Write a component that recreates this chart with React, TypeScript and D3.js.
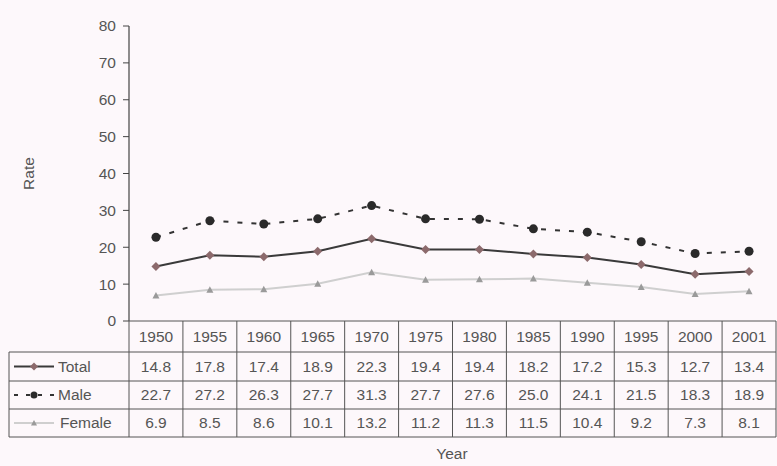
import React from "react";
import * as d3 from "d3";

const years = ["1950", "1955", "1960", "1965", "1970", "1975", "1980", "1985", "1990", "1995", "2000", "2001"];
const total = [14.8, 17.8, 17.4, 18.9, 22.3, 19.4, 19.4, 18.2, 17.2, 15.3, 12.7, 13.4];
const male = [22.7, 27.2, 26.3, 27.7, 31.3, 27.7, 27.6, 25.0, 24.1, 21.5, 18.3, 18.9];
const female = [6.9, 8.5, 8.6, 10.1, 13.2, 11.2, 11.3, 11.5, 10.4, 9.2, 7.3, 8.1];
const yTicks = [0, 10, 20, 30, 40, 50, 60, 70, 80];

const W = 777;
const H = 466;
const left = 129;
const right = 776;
const top = 26;
const baseY = 321;
const rowLines = [321, 352, 381, 409, 437];
const legendLeft = 9;

const series = [
  { name: "Total", values: total, stroke: "#3a3a3a", dash: "", width: 2, marker: "#8c6a6c", r: 4 },
  { name: "Male", values: male, stroke: "#333", dash: "5,9", width: 2, marker: "#2a2a2a", r: 4.5 },
  { name: "Female", values: female, stroke: "#cfcfcf", dash: "", width: 2, marker: "#9a9a9a", r: 3 },
];

export default function App() {
  const x = d3.scaleBand<string>().domain(years).range([left, right]);
  const y = d3.scaleLinear().domain([0, 80]).range([baseY, top]);
  const cx = (yr: string) => (x(yr) as number) + x.bandwidth() / 2;
  const font = "'Liberation Sans', Arial, sans-serif";
  const txt = "#555";
  const fs = 15.5;

  return (
    <svg width={W} height={H} style={{ position: "absolute", left: 0, top: 0, background: "#fdf8fb" }} fontFamily={font}>
      <rect width={W} height={H} fill="#fdf8fb" />
      {/* y axis */}
      <line x1={left} x2={left} y1={top} y2={baseY} stroke="#444" strokeWidth={1.2} />
      {yTicks.map((t) => (
        <g key={t}>
          <line x1={left - 6} x2={left} y1={y(t)} y2={y(t)} stroke="#444" />
          <text x={left - 13} y={y(t)} dy="0.35em" textAnchor="end" fontSize={fs} fill={txt}>
            {t}
          </text>
        </g>
      ))}
      <text transform={`translate(34,${(top + baseY) / 2}) rotate(-90)`} textAnchor="middle" fontSize={fs} fill={txt}>
        Rate
      </text>

      {/* series lines and markers */}
      {series.map((s) => {
        const line = d3
          .line<number>()
          .x((_, i) => cx(years[i]))
          .y((v) => y(v));
        return (
          <g key={s.name}>
            <path d={line(s.values) ?? ""} fill="none" stroke={s.stroke} strokeWidth={s.width} strokeDasharray={s.dash} />
            {s.values.map((v, i) =>
              s.name === "Total" ? (
                <path
                  key={i}
                  d={`M${cx(years[i])},${y(v) - 4.5}L${cx(years[i]) + 4.5},${y(v)}L${cx(years[i])},${y(v) + 4.5}L${cx(years[i]) - 4.5},${y(v)}Z`}
                  fill={s.marker}
                />
              ) : s.name === "Female" ? (
                <path
                  key={i}
                  d={`M${cx(years[i])},${y(v) - 3.5}L${cx(years[i]) + 3.5},${y(v) + 3}L${cx(years[i]) - 3.5},${y(v) + 3}Z`}
                  fill={s.marker}
                />
              ) : (
                <circle key={i} cx={cx(years[i])} cy={y(v)} r={s.r} fill={s.marker} />
              )
            )}
          </g>
        );
      })}

      {/* data table */}
      <g stroke="#555" strokeWidth={1}>
        <line x1={left} x2={right} y1={rowLines[0]} y2={rowLines[0]} />
        {rowLines.slice(1).map((ly) => (
          <line key={ly} x1={legendLeft} x2={right} y1={ly} y2={ly} />
        ))}
        {years.map((yr) => (
          <line key={yr} x1={x(yr)} x2={x(yr)} y1={rowLines[0]} y2={rowLines[4]} />
        ))}
        <line x1={right} x2={right} y1={rowLines[0]} y2={rowLines[4]} />
        <line x1={legendLeft} x2={legendLeft} y1={rowLines[1]} y2={rowLines[4]} />
      </g>
      {years.map((yr) => (
        <text key={yr} x={cx(yr)} y={(rowLines[0] + rowLines[1]) / 2} dy="0.35em" textAnchor="middle" fontSize={fs} fill={txt}>
          {yr}
        </text>
      ))}
      {series.map((s, r) => (
        <g key={s.name}>
          {s.values.map((v, i) => (
            <text
              key={i}
              x={cx(years[i])}
              y={(rowLines[r + 1] + rowLines[r + 2]) / 2}
              dy="0.35em"
              textAnchor="middle"
              fontSize={fs}
              fill={txt}
            >
              {v.toFixed(1)}
            </text>
          ))}
        </g>
      ))}

      {/* legend column */}
      {series.map((s, r) => {
        const ly = (rowLines[r + 1] + rowLines[r + 2]) / 2;
        return (
          <g key={s.name}>
            <line x1={14} x2={54} y1={ly} y2={ly} stroke={s.stroke} strokeWidth={s.width} strokeDasharray={s.name === "Male" ? "4,8" : ""} />
            {s.name === "Total" ? (
              <path d={`M34,${ly - 4}L38,${ly}L34,${ly + 4}L30,${ly}Z`} fill={s.marker} />
            ) : s.name === "Female" ? (
              <path d={`M34,${ly - 3}L37,${ly + 2.5}L31,${ly + 2.5}Z`} fill={s.marker} />
            ) : (
              <circle cx={34} cy={ly} r={3.5} fill={s.marker} />
            )}
            <text x={s.name === "Female" ? 60 : 58} y={ly} dy="0.35em" fontSize={fs} fill={txt}>
              {s.name}
            </text>
          </g>
        );
      })}

      <text x={452} y={454} dy="0.35em" textAnchor="middle" fontSize={fs} fill={txt}>
        Year
      </text>
    </svg>
  );
}
